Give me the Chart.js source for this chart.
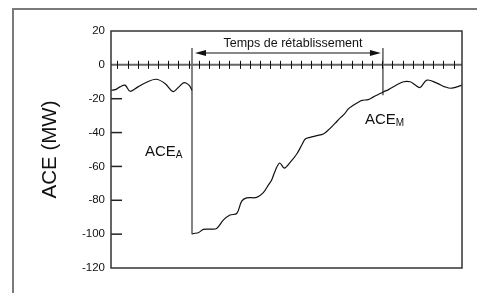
<!DOCTYPE html>
<html>
<head>
<meta charset="utf-8">
<script src="https://cdn.jsdelivr.net/npm/chart.js@4"></script>
<style>
  html, body { margin: 0; padding: 0; background: #fff; }
  canvas { display: block; }
</style>
</head>
<body>
<canvas id="chart1" width="477" height="293"></canvas>
<script>
// ACE avant l'incident
var timePre = [-0.62, -0.13, 0.26, 0.76, 1.25, 2.03, 2.72, 3.8, 4.68, 5.47, 5.96, 6.55, 7.04, 7.33];
var acePre  = [-15, -14.5, -13, -12, -15.6, -13, -10.7, -8.5, -11, -15.8, -13.5, -10.5, -12, -15];

// ACE apres l'incident
var timePost = [7.36, 7.46, 7.95, 8.44, 9.1, 9.75, 10.4, 11.06, 11.72, 12.21, 12.7, 13.68, 14.33, 14.82,
                15.15, 15.5, 15.94, 16.39, 16.98, 17.63, 18.13, 18.45, 18.91, 19.6, 20.22, 20.71, 21.36,
                21.85, 22.34, 22.67, 23.16, 23.52, 24.01, 24.63, 25.14, 25.61, 26.1, 26.66, 27.28, 28.09,
                28.75, 29.21, 29.71, 30.39, 31.37, 32.16, 32.82, 33.83];
var acePost  = [-100, -99.6, -99.2, -97.2, -97, -96.6, -91.7, -88.7, -87.8, -80.5, -78.6, -78.3, -75.5, -71,
                -68, -62.5, -58, -61, -57.5, -52.5, -47, -43.8, -42.8, -41.8, -40.8, -38.5, -34.6,
                -31.5, -28.7, -26, -23.8, -22.5, -21, -20.5, -18.9, -17.5, -16, -14.5, -12.3, -10,
                -10, -11.8, -13.4, -9, -10.8, -13, -13.8, -12];

// instants ACE_A / ACE_M
var markerTimes = [7.33, 26.07];
var markerTop = 10;
var markerBottoms = [-100, -18];

var yTicks = [20, 0, -20, -40, -60, -80, -100, -120];
var timeTicks = [];
for (var i = 0; i <= 33; i++) { timeTicks.push(i); }

var FONT = "'Liberation Sans', Arial, sans-serif";

function toPoints(xs, ys) {
    return xs.map(function(x, i) { return { x: x, y: ys[i] }; });
}

// cadre, axe zero, fleche et etiquettes
var decoPlugin = {
    id: 'deco',
    beforeDraw: function(chart) {
        var ctx = chart.ctx;
        ctx.save();
        ctx.strokeStyle = '#7a7a7a';
        ctx.lineWidth = 2;
        ctx.beginPath();
        ctx.moveTo(13, 293);
        ctx.lineTo(13, 9);
        ctx.lineTo(477, 9);
        ctx.stroke();
        ctx.restore();
    },
    afterDraw: function(chart) {
        var ctx = chart.ctx;
        var a = chart.chartArea;
        var xs = chart.scales.x, ys = chart.scales.y;
        ctx.save();

        // ligne zero avec graduations
        var y0 = ys.getPixelForValue(0);
        ctx.strokeStyle = '#666';
        ctx.lineWidth = 2;
        ctx.beginPath();
        ctx.moveTo(a.left, y0);
        ctx.lineTo(a.right, y0);
        ctx.stroke();
        ctx.strokeStyle = '#111';
        ctx.lineWidth = 1;
        timeTicks.forEach(function(t) {
            var px = Math.round(xs.getPixelForValue(t)) + 0.5;
            ctx.beginPath();
            ctx.moveTo(px, y0 - 4);
            ctx.lineTo(px, y0 + 4);
            ctx.stroke();
        });

        // graduations interieures de l'axe y
        ctx.strokeStyle = '#222';
        ctx.lineWidth = 1.5;
        yTicks.forEach(function(v) {
            if (v >= 0 || v <= -120) return;
            var py = ys.getPixelForValue(v);
            ctx.beginPath();
            ctx.moveTo(a.left, py);
            ctx.lineTo(a.left + 11, py);
            ctx.stroke();
        });

        // cadre du graphique
        ctx.strokeStyle = '#333';
        ctx.lineWidth = 1.5;
        ctx.strokeRect(a.left, a.top, a.right - a.left, a.bottom - a.top);

        // fleche temps de retablissement
        var xA = xs.getPixelForValue(markerTimes[0]) + 3;
        var xM = xs.getPixelForValue(markerTimes[1]) - 2;
        var ya = ys.getPixelForValue(7);
        ctx.strokeStyle = '#111';
        ctx.fillStyle = '#111';
        ctx.lineWidth = 1.2;
        ctx.beginPath();
        ctx.moveTo(xA + 8, ya);
        ctx.lineTo(xM - 8, ya);
        ctx.stroke();
        ctx.beginPath();
        ctx.moveTo(xA, ya);
        ctx.lineTo(xA + 11, ya - 3);
        ctx.lineTo(xA + 11, ya + 3);
        ctx.closePath();
        ctx.fill();
        ctx.beginPath();
        ctx.moveTo(xM, ya);
        ctx.lineTo(xM - 11, ya - 3);
        ctx.lineTo(xM - 11, ya + 3);
        ctx.closePath();
        ctx.fill();

        ctx.font = '12.5px ' + FONT;
        ctx.textAlign = 'center';
        ctx.textBaseline = 'middle';
        ctx.fillText('Temps de rétablissement', (xA + xM) / 2 + 5, ys.getPixelForValue(12.5));

        // ACE_A et ACE_M
        function subLabel(main, sub, px, py) {
            ctx.textAlign = 'left';
            ctx.textBaseline = 'alphabetic';
            ctx.font = '15px ' + FONT;
            ctx.fillText(main, px, py);
            var w = ctx.measureText(main).width;
            ctx.font = '10px ' + FONT;
            ctx.fillText(sub, px + w, py + 1.5);
        }
        subLabel('ACE', 'A', xs.getPixelForValue(2.72), ys.getPixelForValue(-53.9));
        subLabel('ACE', 'M', xs.getPixelForValue(24.31), ys.getPixelForValue(-35));

        ctx.restore();
    }
};

var ctx = document.getElementById('chart1').getContext('2d');
var lineStyle = { borderColor: '#111', borderWidth: 1.2, pointRadius: 0, tension: 0.35, fill: false };
var markerStyle = { borderColor: '#444', borderWidth: 1.3, pointRadius: 0, tension: 0, fill: false };

var chart = new Chart(ctx, {
    type: 'line',
    data: {
        datasets: [
            Object.assign({ label: 'avant', data: toPoints(timePre, acePre) }, lineStyle),
            Object.assign({ label: 'apres', data: toPoints(timePost, acePost) }, lineStyle),
            Object.assign({ label: 'ACE_A', data: [{ x: markerTimes[0], y: markerTop }, { x: markerTimes[0], y: markerBottoms[0] }] }, markerStyle),
            Object.assign({ label: 'ACE_M', data: [{ x: markerTimes[1], y: markerTop }, { x: markerTimes[1], y: markerBottoms[1] }] }, markerStyle)
        ]
    },
    options: {
        responsive: false,
        devicePixelRatio: 1,
        animation: false,
        layout: { padding: { left: 0, top: 31, right: 15, bottom: 25 } },
        plugins: { legend: { display: false }, tooltip: { enabled: false } },
        scales: {
            x: { type: 'linear', display: false, min: -0.62, max: 33.83 },
            y: {
                min: -120,
                max: 20,
                afterBuildTicks: function(scale) {
                    scale.ticks = yTicks.map(function(v) { return { value: v }; });
                },
                ticks: { padding: 6, color: '#111', font: { size: 11.5, family: FONT } },
                grid: { display: false, drawTicks: false },
                border: { display: false },
                title: {
                    display: true,
                    text: 'ACE (MW)',
                    color: '#111',
                    font: { size: 20.5, family: FONT },
                    padding: { top: 37.7, bottom: 0 }
                },
                afterFit: function(scale) { scale.width = 111; }
            }
        }
    },
    plugins: [decoPlugin]
});
</script>
</body>
</html>
